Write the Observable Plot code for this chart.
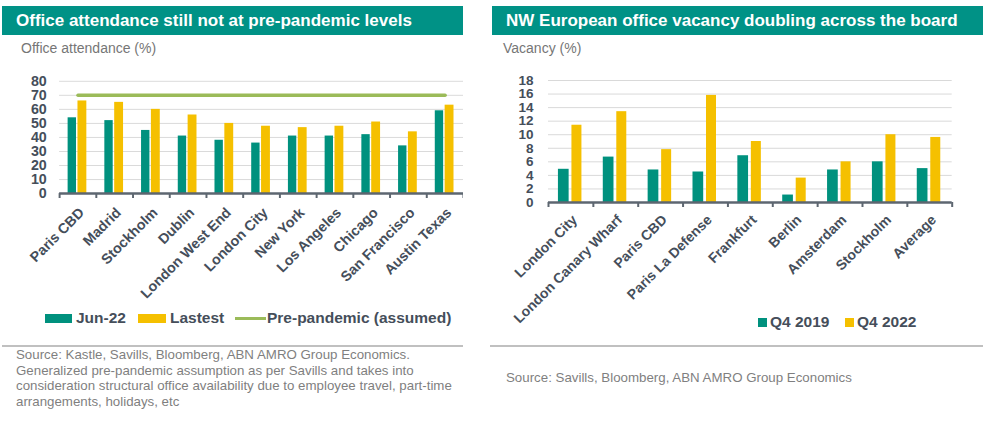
<!DOCTYPE html>
<html><head><meta charset="utf-8">
<script src="https://cdn.jsdelivr.net/npm/d3@7"></script>
<script src="https://cdn.jsdelivr.net/npm/@observablehq/plot@0.6"></script>
<style>
body{margin:0;width:997px;height:422px;background:#fff;font-family:"Liberation Sans",Arial,sans-serif;position:relative;overflow:hidden}
.abs{position:absolute}
.title{background:#009286;color:#fff;font-weight:bold;font-size:17px;height:29px;line-height:29px;padding-left:14px;box-sizing:border-box;white-space:nowrap}
.sub{color:#767676;font-size:14px;white-space:nowrap}
.src{color:#7f7f7f;font-size:13.3px;line-height:15.5px}
.sep{height:2px;background:#c0c0c0}
.leg{font-weight:bold;font-size:15.5px;color:#454e5a;white-space:nowrap;line-height:18px}
.sw{position:absolute}
</style></head><body>
<div class="abs title" style="left:2px;top:6px;width:461px">Office attendance still not at pre-pandemic levels</div>
<div class="abs sub" style="left:21px;top:40px">Office attendance (%)</div>
<div class="abs" id="left" style="left:0;top:68px;width:463px;height:245px;overflow:hidden"></div>
<div class="abs title" style="left:492px;top:6px;width:491px">NW European office vacancy doubling across the board</div>
<div class="abs sub" style="left:503px;top:40px">Vacancy (%)</div>
<div class="abs" id="right" style="left:490px;top:68px;width:497px;height:245px"></div>

<div class="sw" style="left:45px;top:314px;width:27px;height:9px;background:#00917e"></div>
<div class="abs leg" style="left:76px;top:309px">Jun-22</div>
<div class="sw" style="left:138px;top:314px;width:28px;height:9px;background:#f5c000"></div>
<div class="abs leg" style="left:170px;top:309px">Lastest</div>
<div class="sw" style="left:235px;top:317px;width:31px;height:3px;background:#9bbb59"></div>
<div class="abs leg" style="left:267px;top:309px">Pre-pandemic (assumed)</div>

<div class="sw" style="left:758px;top:318px;width:9px;height:9px;background:#00917e"></div>
<div class="abs leg" style="left:770px;top:313px">Q4 2019</div>
<div class="sw" style="left:845px;top:318px;width:9px;height:9px;background:#f5c000"></div>
<div class="abs leg" style="left:857px;top:313px">Q4 2022</div>

<div class="abs sep" style="left:2px;top:345px;width:461px"></div>
<div class="abs sep" style="left:490px;top:345px;width:493px"></div>
<div class="abs src" style="left:16px;top:347px;width:450px">Source: Kastle, Savills, Bloomberg, ABN AMRO Group Economics. Generalized pre-pandemic assumption as per Savills and takes into consideration structural office availability due to employee travel, part-time arrangements, holidays, etc</div>
<div class="abs src" style="left:506px;top:370px;white-space:nowrap">Source: Savills, Bloomberg, ABN AMRO Group Economics</div>

<script>
// ---- Data: office attendance ----
const attendanceCities = ["Paris CBD","Madrid","Stockholm","Dublin","London West End","London City","New York","Los Angeles","Chicago","San Francisco","Austin Texas"];
const attendanceJun22 = [54,52,45,41,38,36,41,41,42,34,59];
const attendanceLatest = [66,65,60,56,50,48,47,48,51,44,63];
const prePandemicLevel = 70;
const attendanceTicks = [0,10,20,30,40,50,60,70,80];

// ---- Data: office vacancy ----
const vacancyCities = ["London City","London Canary Wharf","Paris CBD","Paris La Defense","Frankfurt","Berlin","Amsterdam","Stockholm","Average"];
const vacancyQ42019 = [4.9,6.7,4.8,4.5,6.9,1.1,4.8,6.0,5.0];
const vacancyQ42022 = [11.4,13.4,7.8,15.8,9.0,3.6,6.0,10.0,9.6];
const vacancyTicks = [0,2,4,6,8,10,12,14,16,18];

const TEAL = "#00917e", YELLOW = "#f5c000", GREEN = "#9bbb59", AXIS = "#5d6670", TEXT = "#454e5a";

function makeChart(o) {
  const step = (o.width - o.ml - o.mr) / o.cats.length;
  const rows1 = o.cats.map((c, i) => ({c, v: o.s1[i]}));
  const rows2 = o.cats.map((c, i) => ({c, v: o.s2[i]}));
  const marks = [
    Plot.ruleY(o.ticks.filter(t => t > 0), {stroke: "#d9d9d9", strokeWidth: 1}),
    Plot.barY(rows1, {x: "c", y: "v", fill: TEAL, insetLeft: step / 2 + o.bar1[0], insetRight: step / 2 - o.bar1[1]}),
    Plot.barY(rows2, {x: "c", y: "v", fill: YELLOW, insetLeft: step / 2 + o.bar2[0], insetRight: step / 2 - o.bar2[1]})
  ];
  if (o.line != null) {
    marks.push(Plot.lineY(o.cats.map(c => ({c, v: o.line})), {x: "c", y: "v", stroke: GREEN, strokeWidth: 3.5}));
  }
  marks.push(
    Plot.ruleY([0], {stroke: AXIS, strokeWidth: 2.5}),
    Plot.ruleX(o.cats, {x: d => d, dx: -step / 2, y1: 0, y2: 0, insetBottom: -5, stroke: AXIS, strokeWidth: 2}),
    Plot.ruleX([o.cats[o.cats.length - 1]], {x: d => d, dx: step / 2, y1: 0, y2: 0, insetBottom: -5, stroke: AXIS, strokeWidth: 2}),
    Plot.text(o.cats, {x: d => d, y: d => 0, text: d => d, rotate: -45, textAnchor: "end", lineAnchor: "middle",
      dx: o.labelDx, dy: o.labelDy, fontSize: o.labelSize, fontWeight: "bold", fill: TEXT})
  );
  return Plot.plot({
    width: o.width, height: o.height,
    marginTop: o.mt, marginBottom: o.mb, marginLeft: o.ml, marginRight: o.mr,
    x: {domain: o.cats, padding: 0, round: false, axis: null},
    y: {domain: [0, o.ticks[o.ticks.length - 1]], ticks: o.ticks, tickSize: 0, tickPadding: o.tickPadding, label: null},
    style: {fontFamily: "Liberation Sans, Arial, sans-serif", fontSize: o.fontSize + "px", fontWeight: "bold", color: TEXT, background: "transparent", overflow: "visible"},
    marks
  });
}

document.getElementById("left").append(makeChart({
  cats: attendanceCities, s1: attendanceJun22, s2: attendanceLatest, ticks: attendanceTicks, line: prePandemicLevel,
  width: 470, height: 245, mt: 13, mb: 118, ml: 60, mr: 0,
  bar1: [-10, -1.5], bar2: [0, 9], fontSize: 14.5, tickPadding: 13, labelSize: 14.5, labelDx: 4, labelDy: 17
}));

document.getElementById("right").append(makeChart({
  cats: vacancyCities, s1: vacancyQ42019, s2: vacancyQ42022, ticks: vacancyTicks, line: null,
  width: 497, height: 245, mt: 12, mb: 111, ml: 58, mr: 35.3,
  bar1: [-12.5, -1.8], bar2: [1, 11], fontSize: 13.5, tickPadding: 15, labelSize: 14, labelDx: 4, labelDy: 15
}));
</script>
</body></html>
